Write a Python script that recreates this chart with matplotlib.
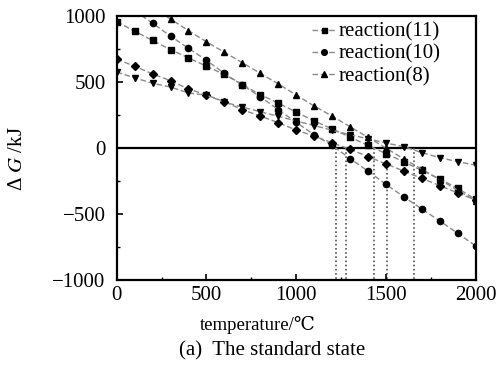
import numpy as np
import matplotlib
matplotlib.use("Agg")
import matplotlib.pyplot as plt

plt.rcParams['font.family'] = ['Liberation Serif', 'DejaVu Serif']
plt.rcParams['mathtext.fontset'] = 'stix'

temps = [0, 100, 200, 300, 400, 500, 600, 700, 800, 900, 1000,
         1100, 1200, 1300, 1400, 1500, 1600, 1700, 1800, 1900, 2000]

reaction_11 = [957, 885, 815, 745, 683, 620, 557, 480, 405, 340, 272,
               205, 145, 82, 20, -42, -105, -170, -235, -305, -390]
reaction_10 = [np.nan, 1040, 945, 848, 755, 665, 565, 477, 389, 290, 195,
               100, 20, -80, -175, -275, -370, -462, -553, -646, -742]
reaction_8 = [np.nan, np.nan, 1060, 977, 889, 805, 725, 646, 566, 485, 402,
              318, 242, 161, 81, 0, -83, -160, -240, -320, -400]
reaction_diamond = [674, 619, 561, 510, 447, 402, 351, 290, 242, 192, 136,
                    90, 40, -10, -65, -120, -175, -230, -285, -340, -395]
reaction_down = [575, 532, 490, 462, 417, 400, 348, 310, 275, 240, 205,
                 170, 135, 100, 70, 38, 10, -35, -73, -104, -130]

crossings = [1224, 1280, 1432, 1508, 1658]

legend_labels = ['reaction(11)', 'reaction(10)', 'reaction(8)']

fig = plt.figure(figsize=(4.98, 3.67), dpi=100)
ax = fig.add_axes([0.2343, 0.237, 0.7209, 0.7194])

line_kw = dict(color='#8a8a8a', linestyle=(0, (4, 2)), linewidth=1.0,
               markerfacecolor='black', markeredgecolor='black')

h11, = ax.plot(temps, reaction_11, marker='s', markersize=4, **line_kw)
h10, = ax.plot(temps, reaction_10, marker='o', markersize=4.5, **line_kw)
h8, = ax.plot(temps, reaction_8, marker='^', markersize=5, **line_kw)
ax.plot(temps, reaction_diamond, marker='D', markersize=4, **line_kw)
ax.plot(temps, reaction_down, marker='v', markersize=5, **line_kw)

ax.axhline(0, color='black', linewidth=1.6, zorder=1)
for c in crossings:
    ax.plot([c, c], [0, -1000], color='#555555', linestyle=(0, (1, 1.5)),
            linewidth=1.2, zorder=1)

ax.set_xlim(0, 2000)
ax.set_ylim(-1000, 1000)
ax.set_xticks([0, 500, 1000, 1500, 2000])
ax.set_xticks(np.arange(0, 2001, 250), minor=True)
ax.set_yticks([-1000, -500, 0, 500, 1000])
ax.set_yticks(np.arange(-1000, 1001, 250), minor=True)
ax.tick_params(which='both', direction='in', top=False, right=False,
               labelsize=15)
ax.tick_params(which='major', length=4, width=1.2)
ax.tick_params(which='minor', length=2.5, width=1.0)
ax.tick_params(axis='y', pad=8)
ax.tick_params(axis='x', pad=4)
ax.set_yticklabels(['\u22121000', '\u2212500', '0', '500', '1000'])
for s in ax.spines.values():
    s.set_linewidth(1.6)

leg = ax.legend([h11, h10, h8], legend_labels, loc='upper right',
                bbox_to_anchor=((447 - 116.7) / 359, 1.0),
                frameon=False, fontsize=15, handlelength=1.2,
                handletextpad=0.1, labelspacing=0.12, borderpad=0.2,
                borderaxespad=0.1, markerscale=0.9)

fig.text(258 / 498, 1 - 325 / 367, 'temperature/\u2103', ha='center',
         va='center', fontsize=13.5)
fig.text(272 / 498, 1 - 351 / 367, '(a)  The standard state', ha='center',
         va='center', fontsize=15)
fig.text(18 / 498, 1 - 159 / 367, '\u0394 $G$ /kJ', rotation=90,
         ha='center', va='center', fontsize=15)

fig.savefig('out.png', dpi=100)
